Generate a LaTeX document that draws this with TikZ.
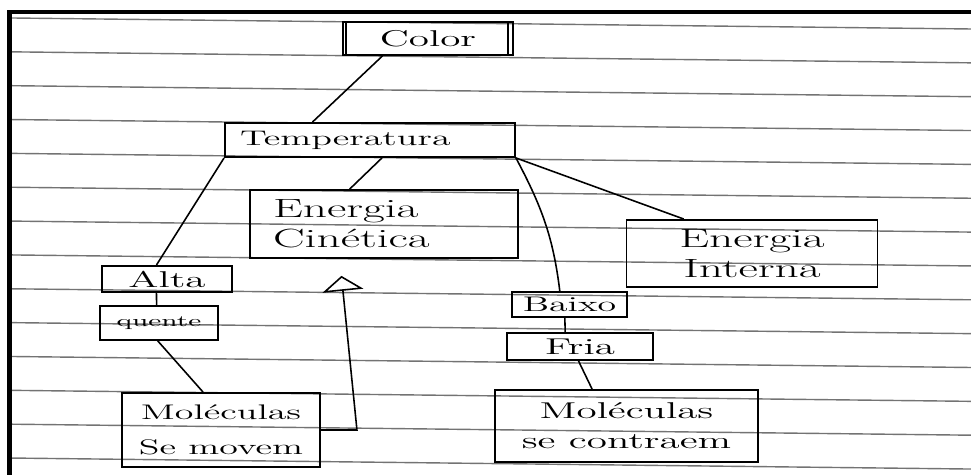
\documentclass[tikz,border=0pt]{standalone}
\usepackage{graphicx}
\usetikzlibrary{calc}
\usetikzlibrary{arrows.meta}
\definecolor{ruling}{rgb}{0.45,0.45,0.45}
\newcommand{\hw}[1]{\scalebox{1.8}[1]{#1}}

\begin{document}
\begin{tikzpicture}[x=0.02cm, y=-0.02cm,
  concept/.style={draw, line width=1.1pt, inner sep=0pt, font=\fontsize{13}{17}\selectfont},
  link/.style={line width=0.9pt},
  paperline/.style={ruling, line width=0.8pt},
]

  \useasboundingbox (0,0) rectangle (971,475);

  % paper
  \foreach \k in {0,...,13}
    \draw[paperline] (12,{18+33.85*\k}) -- (971,{29+33.85*\k});
  \fill (7,10) rectangle (971,14);
  \fill (7,10) rectangle (12,475);

  \node[concept, minimum width=3.4cm, minimum height=0.66cm] (color) at (428,38.5) {\hw{Color}};
  \draw[link] ([xshift=0.08cm]color.north west) -- ([xshift=0.08cm]color.south west);
  \draw[link] ([xshift=-0.12cm]color.north east) -- ([xshift=-0.12cm]color.south east);

  \node[concept, minimum width=5.8cm, minimum height=0.68cm, text width=5.2cm, align=left,
        font=\fontsize{12}{14}\selectfont] (temp) at (370,140) {\hw{Temperatura}};

  \node[concept, minimum width=5.36cm, minimum height=1.36cm, text width=4.44cm, align=left,
        font=\fontsize{15}{17}\selectfont] (cinet) at (384,224) {\hw{Energia}\\\hw{Cinética}};
  \node[concept, minimum width=5.02cm, minimum height=1.34cm, align=center,
        font=\fontsize{15}{17}\selectfont] (interna) at (752,253.5) {\hw{Energia}\\\hw{Interna}};

  \node[concept, minimum width=2.6cm, minimum height=0.52cm] (alta) at (167,279) {\hw{Alta}};
  \node[concept, minimum width=2.36cm, minimum height=0.68cm, font=\fontsize{9}{11}\selectfont] (quente) at (159,323) {\hw{quente}};
  \node[concept, minimum width=2.3cm, minimum height=0.5cm, font=\fontsize{12}{14}\selectfont] (baixo) at (569.5,304.5) {\hw{Baixo}};
  \node[concept, minimum width=2.92cm, minimum height=0.54cm] (fria) at (580,346.5) {\hw{Fria}};

  \node[concept, minimum width=3.96cm, minimum height=1.48cm, align=center,
        font=\fontsize{12}{20}\selectfont] (movem) at (221,430) {\hw{Moléculas}\\\hw{Se movem}};
  \node[concept, minimum width=5.26cm, minimum height=1.44cm, align=center] (contraem) at (626.5,426) {\hw{Moléculas}\\\hw{se contraem}};

  % links
  \draw[link] ($(color.south west)!0.235!(color.south east)$) -- ($(temp.north west)!0.303!(temp.north east)$);
  \draw[link] ($(temp.south west)!0.541!(temp.south east)$) -- ($(cinet.north west)!0.373!(cinet.north east)$);
  \draw[link] (temp.south west) -- ($(alta.north west)!0.42!(alta.north east)$);
  \draw[link] (temp.south east) -- ($(interna.north west)!0.23!(interna.north east)$);
  \draw[link] (temp.south east) to[out=-62, in=97] ($(baixo.north west)!0.417!(baixo.north east)$);
  \draw[link] ($(alta.south west)!0.42!(alta.south east)$) -- ($(quente.north west)!0.48!(quente.north east)$);
  \draw[link] ($(quente.south west)!0.49!(quente.south east)$) -- ($(movem.north west)!0.41!(movem.north east)$);
  \draw[link] ($(baixo.south west)!0.46!(baixo.south east)$) -- ($(fria.north west)!0.40!(fria.north east)$);
  \draw[link] ($(fria.south west)!0.49!(fria.south east)$) -- ($(contraem.north west)!0.37!(contraem.north east)$);
  \draw[link, -{Triangle[open, length=0.3cm, width=0.82cm]}, shorten >=0.34cm]
    (movem.east) -- ++(36,0) -- ($(cinet.south west)!0.336!(cinet.south east)$);

\end{tikzpicture}
\end{document}
